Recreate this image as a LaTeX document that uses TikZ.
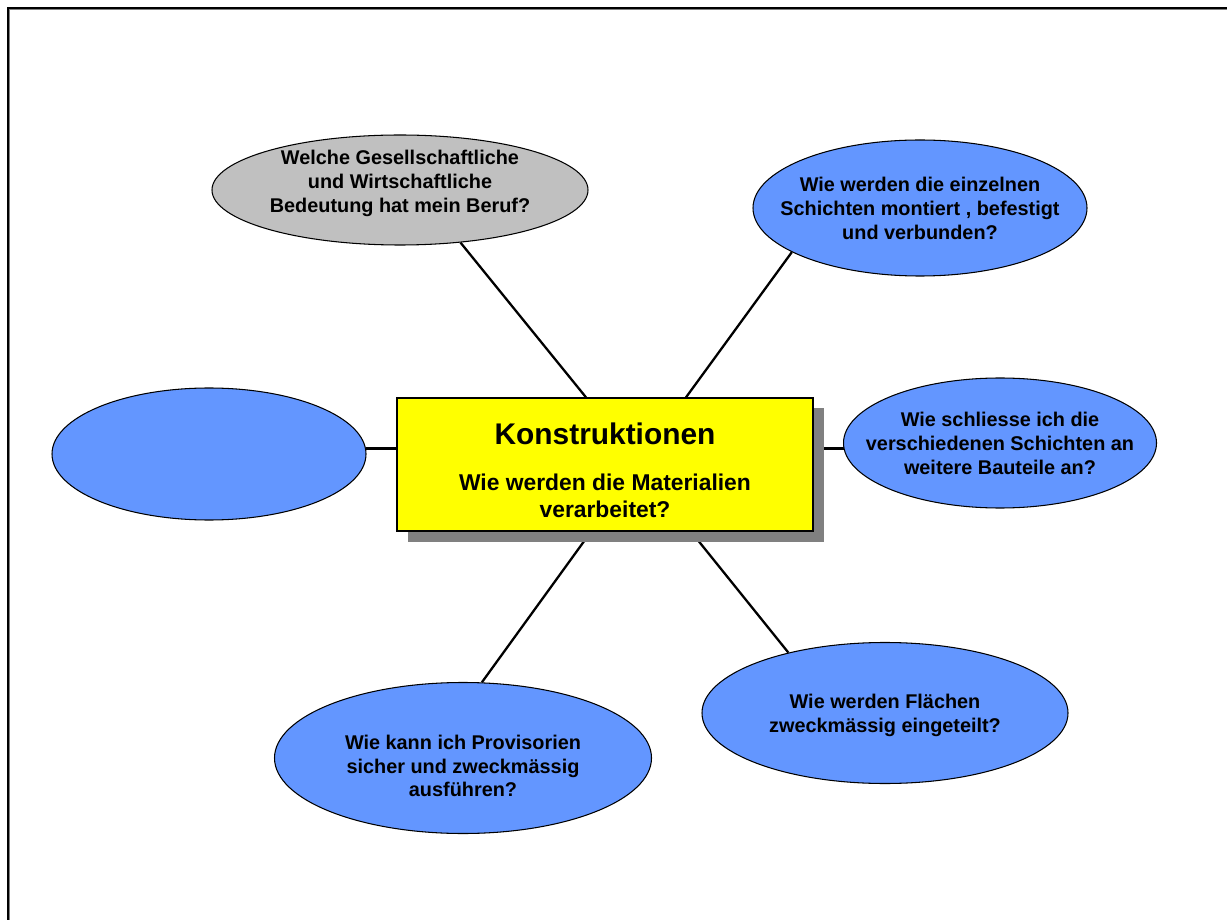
\documentclass[tikz,border=0pt]{standalone}
\usepackage{fontspec}
\setmainfont{Liberation Sans}
\usetikzlibrary{positioning}
\usetikzlibrary{shapes.geometric, shadows, backgrounds}

\definecolor{qblue}{RGB}{99,150,255}
\definecolor{qgray}{RGB}{192,192,192}
\definecolor{qyellow}{RGB}{255,255,0}
\definecolor{qshadow}{RGB}{128,128,128}

% question text, set in a box of no size so the ellipse keeps its own size
\newcommand{\qtext}[2][-4.2pt]{\raisebox{#1}{\makebox[0pt]{\begin{tabular}{@{}c@{}}#2\end{tabular}}}}

\tikzset{
  question/.style={ellipse,
                   draw,
                   line width=0.6pt,
                   fill=qblue,
                   inner sep=0pt,
                   text height=0pt,
                   text depth=0pt,
                   font=\bfseries\fontsize{11.3}{13.5}\selectfont},
  link/.style={line width=1.3pt}
}

\begin{document}
\begin{tikzpicture}
   \useasboundingbox (0,0) rectangle (24.54,-18.4);

   % frame of the page
   \draw[qshadow, line width=0.6pt] (0.19,-18.4) |- (24.54,-0.19);
   \draw[line width=1.1pt] (0.16,-18.4) |- (24.54,-0.16);

   \node[rectangle,
          draw,
          line width=0.75pt,
          minimum width = 8.32cm,
          minimum height = 2.66cm,
          fill=qyellow,
          align=center,
          font=\bfseries\fontsize{13}{15.4}\selectfont,
          drop shadow={shadow xshift=0.21cm, shadow yshift=-0.21cm, fill=qshadow, opacity=1}
          ] (box) at (12.10,-9.29)
          {{\fontsize{17}{20}\selectfont\rule{0pt}{19.2pt}Konstruktionen}\\[10.8pt]
           Wie werden die Materialien\\verarbeitet?};

   \node[question, fill=qgray, minimum width=7.52cm, minimum height=2.2cm] (gq) at (8.00,-3.80)
        {\qtext[0.9pt]{Welche Gesellschaftliche\\und Wirtschaftliche\\Bedeutung hat mein Beruf?}};
   \node[question, minimum width=6.68cm, minimum height=2.72cm] (tq) at (18.40,-4.16)
        {\qtext{Wie werden die einzelnen\\Schichten montiert , befestigt\\und verbunden?}};
   \node[question, minimum width=6.28cm, minimum height=2.64cm] (lq) at (4.18,-9.08) {};
   \node[question, minimum width=6.26cm, minimum height=2.6cm] (rq) at (20.00,-8.86)
        {\qtext{Wie schliesse ich die\\verschiedenen Schichten an\\weitere Bauteile an?}};
   \node[question, minimum width=7.32cm, minimum height=2.82cm] (brq) at (17.70,-14.26)
        {\qtext{Wie werden Flächen\\zweckmässig eingeteilt?}};
   \node[question, minimum width=7.54cm, minimum height=3.02cm] (blq) at (9.26,-15.16)
        {\qtext[-8.7pt]{Wie kann ich Provisorien\\sicher und zweckmässig\\ausführen?}};

   \begin{pgfonlayer}{background}
    \draw [link] (gq.-41) -- ([xshift=-0.38cm]box.north);
    \draw [link] (tq.199) -- ([xshift=1.62cm]box.north);
    \draw [link] (lq.2) -- (lq.2 -| box.west);
    \draw [link] (rq.182) -- (rq.182 -| box.east);
    \draw [link] (brq.148) -- ([xshift=1.72cm]box.south);
    \draw [link] (blq.76) -- ([xshift=-0.28cm]box.south);
   \end{pgfonlayer}
\end{tikzpicture}
\end{document}
